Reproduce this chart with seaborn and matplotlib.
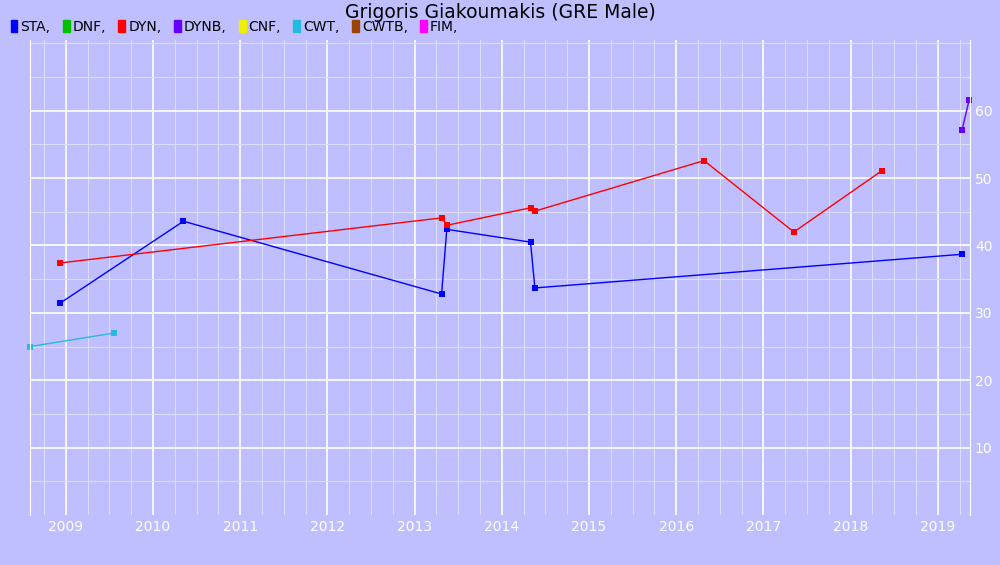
import matplotlib
matplotlib.use("Agg")
import matplotlib.pyplot as plt
import matplotlib.patches as mpatches
from matplotlib.ticker import MultipleLocator
import pandas as pd
import seaborn as sns

sta_x = [2008.93, 2010.35, 2013.31, 2013.37, 2014.33, 2014.38, 2019.28]
sta_y = [31.4, 43.6, 32.8, 42.4, 40.5, 33.7, 38.7]
dyn_x = [2008.93, 2013.31, 2013.37, 2014.33, 2014.38, 2016.32, 2017.35, 2018.36]
dyn_y = [37.4, 44.1, 43.0, 45.6, 45.1, 52.6, 42.0, 51.1]
dynb_x = [2019.28, 2019.36]
dynb_y = [57.2, 61.6]
cwt_x = [2008.59, 2009.55]
cwt_y = [25.0, 27.0]

legend_names = ["STA", "DNF", "DYN", "DYNB", "CNF", "CWT", "CWTB", "FIM"]
legend_colors = ["#0000ff", "#00c000", "#ff0000", "#6600ff", "#eeee00", "#22bbdd", "#994400", "#ff00ff"]
colors = dict(zip(legend_names, legend_colors))

bg = "#bfbfff"
fig = plt.figure(figsize=(10, 5.65), dpi=100, facecolor=bg)
ax = fig.add_axes([0.03, 50 / 565, 0.94, 475 / 565], facecolor=bg)

for name, xs, ys in [("STA", sta_x, sta_y), ("DYN", dyn_x, dyn_y),
                     ("DYNB", dynb_x, dynb_y), ("CWT", cwt_x, cwt_y)]:
    df = pd.DataFrame({"x": xs, "y": ys})
    sns.lineplot(data=df, x="x", y="y", ax=ax, color=colors[name], lw=1,
                 marker="s", markersize=4, markeredgewidth=0, sort=False, clip_on=False)

ax.set_xlim(2008.59, 2019.37)
ax.set_ylim(0, 70.5)
ax.xaxis.set_major_locator(MultipleLocator(1))
ax.xaxis.set_minor_locator(MultipleLocator(0.25))
ax.yaxis.set_major_locator(MultipleLocator(10))
ax.yaxis.set_minor_locator(MultipleLocator(5))
ax.set_yticks([10, 20, 30, 40, 50, 60])
ax.grid(which="major", color="white", lw=1.2)
ax.grid(which="minor", color="#dcdcf5", lw=0.8)
ax.set_axisbelow(True)
for s in ax.spines.values():
    s.set_visible(False)
ax.spines["left"].set_visible(True)
ax.spines["left"].set_color("white")
ax.spines["right"].set_visible(True)
ax.spines["right"].set_color("white")
ax.yaxis.tick_right()
ax.tick_params(which="both", length=0, colors="white", labelsize=10)
ax.set_xticklabels([f"{int(t)}" for t in ax.get_xticks()])
ax.set_xlabel("")
ax.set_ylabel("")

fig.text(0.5, 0.978, "Grigoris Giakoumakis (GRE Male)", ha="center", va="center", fontsize=13.5)
handles = [mpatches.Patch(color=c, label=n + ",") for n, c in zip(legend_names, legend_colors)]
fig.legend(handles=handles, loc="upper left", bbox_to_anchor=(-0.002, 0.987), ncol=8,
           frameon=False, handlelength=0.5, handleheight=0.9, handletextpad=0.2,
           columnspacing=0.9, fontsize=10)

fig.savefig("out.png", dpi=100, facecolor=bg)
